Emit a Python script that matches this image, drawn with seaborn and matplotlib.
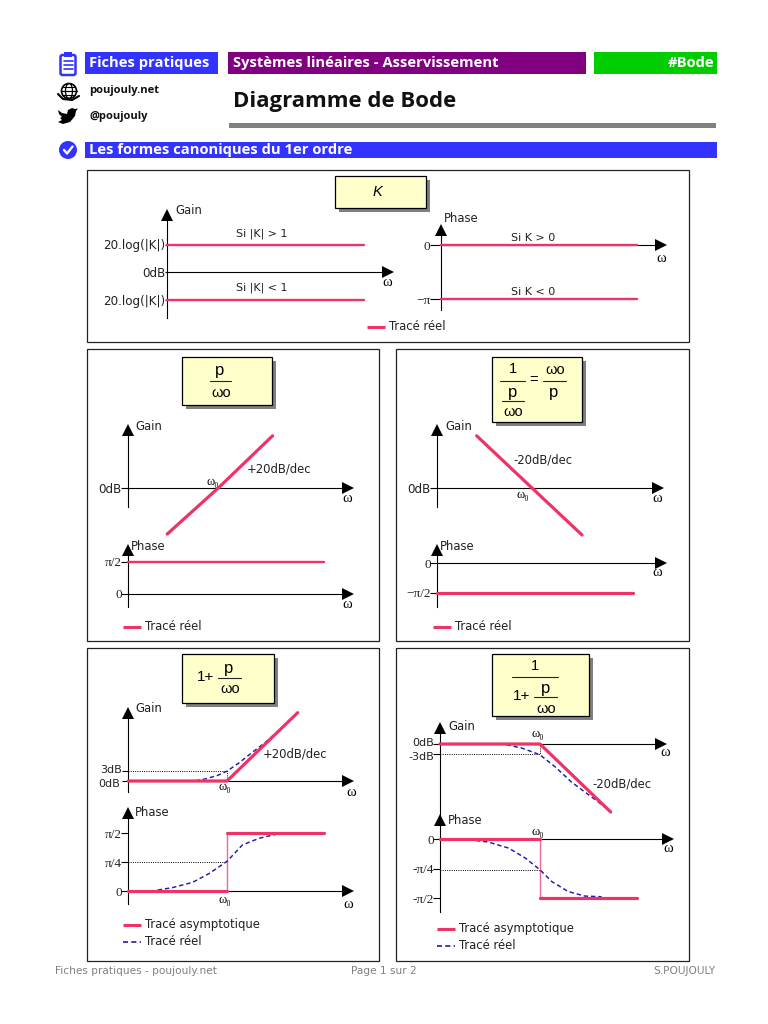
import matplotlib
matplotlib.use("Agg")
import matplotlib.pyplot as plt
from matplotlib.patches import Rectangle, FancyBboxPatch, Circle, Polygon, Ellipse
from matplotlib.transforms import ScaledTranslation
import numpy as np
import seaborn as sns

sns.set_theme(style="white")
plt.rcParams["font.family"] = ["DejaVu Sans"]

W, H = 768, 1024
RED = "#ee3366"
NAVY = "#1c1ca8"
BLUE = "#3333ff"
HEAD_FONT = "Open Sans"

# ---------- data ----------
header_left = "Fiches pratiques"
header_mid = "Systèmes linéaires - Asservissement"
header_right = "#Bode"
page_title = "Diagramme de Bode"
section_title = "Les formes canoniques du 1er ordre"
footer_texts = ["Fiches pratiques - poujouly.net", "Page 1 sur 2", "S.POUJOULY"]

k_x = [0.0, 1.0]
k_gain_high = [1.0, 1.0]
k_gain_low = [-1.0, -1.0]
k_phase_high = [0.0, 0.0]
k_phase_low = [-180.0, -180.0]

p_gain_x = [-0.97, 0.0, 1.03]
p_gain_y = [-18.8, 0.0, 21.3]
p_phase_x = [0.0, 3.72]
p_phase_y = [90.0, 90.0]

inv_gain_x = [-1.05, 0.0, 0.95]
inv_gain_y = [21.3, 0.0, -19.2]
inv_phase_x = [0.0, 3.72]
inv_phase_y = [-90.0, -90.0]

hp_gain_x = [-1.41, 0.0, 1.01]
hp_gain_y = [0.0, 0.0, 20.1]
hp_gain_real_x = [-0.45, -0.31, -0.14, 0.0, 0.17, 0.36, 0.55, 0.83]
hp_gain_real_y = [0.1, 0.6, 1.6, 2.9, 5.3, 8.4, 11.4, 16.5]
hp_phase_low_x = [-1.41, 0.0]
hp_phase_low_y = [0.0, 0.0]
hp_phase_step_x = [0.0, 0.0]
hp_phase_step_y = [0.0, 90.0]
hp_phase_high_x = [0.0, 1.39]
hp_phase_high_y = [90.0, 90.0]
hp_phase_real_x = [-0.99, -0.78, -0.49, -0.25, 0.0, 0.22, 0.46, 0.70]
hp_phase_real_y = [1.5, 5.2, 13.5, 27.5, 46.0, 71.5, 81.9, 88.0]

lp_gain_x = [-1.43, 0.0, 1.01]
lp_gain_y = [0.0, 0.0, -20.0]
lp_gain_real_x = [-0.48, -0.26, -0.10, 0.0, 0.21, 0.45, 0.64, 0.83, 0.98]
lp_gain_real_y = [-0.2, -1.2, -2.4, -3.2, -6.6, -11.2, -14.1, -17.0, -19.5]
lp_phase_low_x = [-1.43, 0.0]
lp_phase_low_y = [0.0, 0.0]
lp_phase_step_x = [0.0, 0.0]
lp_phase_step_y = [0.0, -90.0]
lp_phase_high_x = [0.0, 1.39]
lp_phase_high_y = [-90.0, -90.0]
lp_phase_real_x = [-1.02, -0.74, -0.45, -0.21, 0.0, 0.17, 0.40, 0.64, 0.88]
lp_phase_real_y = [-1.0, -4.6, -13.8, -29.0, -47.0, -65.0, -80.0, -87.0, -88.0]

# ---------- canvas ----------
fig = plt.figure(figsize=(W / 100, H / 100), dpi=100, facecolor="white")
bg = fig.add_axes([0, 0, 1, 1], zorder=0)
bg.set_xlim(0, W)
bg.set_ylim(H, 0)
bg.axis("off")


def txt(x, y, s, size=8.4, color="black", ha="left", va="center", **kw):
    return bg.text(x, y, s, fontsize=size, color=color, ha=ha, va=va, **kw)


def bar(x0, x1, y0, y1, color):
    bg.add_patch(Rectangle((x0, y0), x1 - x0, y1 - y0, fc=color, ec="none"))


def frame(x0, x1, y0, y1):
    bg.add_patch(Rectangle((x0, y0), x1 - x0, y1 - y0, fc="white", ec="#222222", lw=0.9))


def formula_box(x0, x1, y0, y1):
    bg.add_patch(Rectangle((x0 + 4, y0 + 4), x1 - x0, y1 - y0, fc="#808080", ec="none"))
    bg.add_patch(Rectangle((x0, y0), x1 - x0, y1 - y0, fc="#ffffcc", ec="black", lw=0.9))


def frac(x0, x1, y):
    bg.plot([x0, x1], [y, y], color="#222222", lw=0.8)


def ftxt(x, y, s, size=10.5, **kw):
    txt(x, y, s, size=size, ha="center", family="Liberation Sans", **kw)


def omega(x, y):
    txt(x, y, "ω", size=10.5, ha="center", family="Liberation Serif")


def omega0(x, y):
    txt(x, y, "ω₀", size=9, ha="center", family=["Liberation Serif", "DejaVu Serif"])


def legend(x, y, label, dashed=False):
    if dashed:
        bg.plot([x, x + 18], [y, y], color=NAVY, lw=1.2, ls=(0, (3, 2)))
    else:
        bg.plot([x, x + 18], [y, y], color=RED, lw=2.2, solid_capstyle="butt")
    txt(x + 22, y - 0.5, label, color="#222222")


def diagram(left, right, top, bottom, ox, oy, sx, sy, ticks, ticklen=5, size=8.6, shifts=None):
    """Axes placed on the page: ox, oy = pixel of the origin, sx, sy = pixels per unit."""
    ax = fig.add_axes([left / W, 1 - bottom / H, (right - left) / W, (bottom - top) / H],
                      zorder=2)
    ax.patch.set_visible(False)
    sns.despine(ax=ax)
    ax.spines["bottom"].set_position(("data", 0))
    for s in ("left", "bottom"):
        ax.spines[s].set_color("black")
        ax.spines[s].set_linewidth(0.8)
    ax.plot(1, 0, ">", color="black", ms=8, mew=0, transform=ax.get_yaxis_transform(),
            clip_on=False, zorder=4)
    ax.plot(0, 1, "^", color="black", ms=8, mew=0, transform=ax.transAxes,
            clip_on=False, zorder=4)
    ax.set_xticks([])
    ax.set_yticks([t[0] for t in ticks])
    ax.set_yticklabels([t[1] for t in ticks])
    ax.tick_params(axis="y", left=True, length=ticklen, width=0.8, pad=-0.5, labelsize=size,
                   labelcolor="#222222", color="black")
    for lab in ax.get_yticklabels():
        t = lab.get_text()
        if "π" in t or t == "0":
            lab.set_family(["Liberation Serif", "DejaVu Sans"])
            lab.set_fontsize(9.5)
    ax.set_xlim((left - ox) / sx, (right - ox) / sx)
    ax.set_ylim((oy - bottom) / sy, (oy - top) / sy)
    if shifts:
        for lab, (dx, dy) in zip(ax.get_yticklabels(), shifts):
            lab.set_transform(lab.get_transform()
                              + ScaledTranslation(dx / 100, dy / 100, fig.dpi_scale_trans))
    return ax


def curve(ax, x, y, kind="thick"):
    styles = {
        "thick": dict(color=RED, linewidth=2.3, zorder=3),
        "medium": dict(color=RED, linewidth=1.7, zorder=3),
        "thin": dict(color="#f06a90", linewidth=1.0, zorder=2.8),
        "real": dict(color=NAVY, linewidth=1.05, linestyle=(0, (3, 2)), zorder=2.9),
    }
    sns.lineplot(x=x, y=y, ax=ax, sort=False, estimator=None, errorbar=None, clip_on=False,
                 **styles[kind])


def dotted(ax, x, y):
    ax.plot(x, y, color="black", lw=0.7, ls=(0, (1, 1.3)), clip_on=False)


# ---------- header ----------
bg.add_patch(FancyBboxPatch((60.5, 55), 15, 20, boxstyle="round,pad=0,rounding_size=2",
                            fc="white", ec=BLUE, lw=1.8))
bar(64, 72, 52, 57, BLUE)
for yy in (61, 65, 69):
    bg.plot([63.5, 72.5], [yy, yy], color=BLUE, lw=1.2)

bar(85, 218, 52, 74, BLUE)
bar(228, 586, 52, 74, "#800080")
bar(594, 717, 52, 74, "#00cc00")
head = dict(size=10.6, color="white", weight="bold", family=HEAD_FONT)
txt(89, 63, header_left, **head)
txt(233, 63, header_mid, **head)
txt(714, 63, header_right, ha="right", **head)

# globe and bird
bg.add_patch(Circle((69, 91), 7.5, fc="white", ec="black", lw=1.2))
bg.add_patch(Ellipse((69, 91), 7, 15, fc="none", ec="black", lw=0.9))
bg.plot([61.5, 76.5], [91, 91], color="black", lw=0.9)
bg.plot([63, 75], [87, 87], color="black", lw=0.8)
bg.plot([63, 75], [95, 95], color="black", lw=0.8)
bg.plot([58, 63, 72, 79], [94, 99, 100, 96], color="black", lw=1.5)
bg.add_patch(Polygon([(58, 110), (62, 113), (67, 114), (68, 110), (72, 108), (75, 109),
                      (78, 108.5), (76, 111), (75, 116), (70, 122), (63, 124), (58, 122),
                      (62, 120), (60, 118), (62, 117), (59, 114)], fc="black", ec="none"))

txt(89, 91, "poujouly.net", size=8, weight="bold", family=HEAD_FONT, color="#111111")
txt(89, 116, "@poujouly", size=8, weight="bold", family=HEAD_FONT, color="#111111")
txt(233, 101, page_title, size=15.9, weight="bold", family=HEAD_FONT, color="#111111")
bar(229, 716, 123, 128, "#808080")

bg.add_patch(Circle((68, 150), 9, fc=BLUE, ec="none"))
bg.plot([64, 67, 72.5], [150, 153.5, 146.5], color="white", lw=1.7)
bar(85, 717, 142, 158, BLUE)
txt(89, 150, section_title, **head)

# footer
txt(55, 971, footer_texts[0], size=7.6, color="#808080")
txt(384, 971, footer_texts[1], size=7.6, color="#808080", ha="center")
txt(715, 971, footer_texts[2], size=7.6, color="#808080", ha="right")

# ---------- panel frames ----------
frame(87, 689, 170, 342)
frame(87, 379, 349, 641)
frame(396, 689, 349, 641)
frame(87, 379, 648, 961)
frame(396, 689, 648, 961)

# ---------- K ----------
formula_box(335, 426, 176, 208)
txt(377, 192, "K", size=10.5, ha="center", style="italic", family="Liberation Sans")
ax = diagram(167, 388, 215, 318, 167, 272, 197, 27.5,
             [(1, "20.log(|K|)"), (0, "0dB"), (-1, "20.log(|K|)")], ticklen=1.5)
curve(ax, k_x, k_gain_high, "medium")
curve(ax, k_x, k_gain_low, "medium")
txt(175, 211, "Gain", color="#222222")
omega(387, 282)
txt(262, 234, "Si |K| > 1", ha="center", color="#222222", size=8)
txt(262, 288, "Si |K| < 1", ha="center", color="#222222", size=8)

ax = diagram(441, 661, 230, 310, 441, 245, 196, 0.3, [(0, "0"), (-180, "−π")], ticklen=8)
curve(ax, k_x, k_phase_high, "medium")
curve(ax, k_x, k_phase_low, "medium")
txt(444, 218, "Phase", color="#222222")
omega(661, 258)
txt(533, 238, "Si K > 0", ha="center", color="#222222", size=8)
txt(533, 292, "Si K < 0", ha="center", color="#222222", size=8)
legend(367, 327, "Tracé réel")

# ---------- p / w0 ----------
formula_box(182, 272, 357, 405)
ftxt(220, 371, "p", size=12)
frac(210, 231, 381)
ftxt(221, 393, "ωo")
ax = diagram(128, 348, 430, 507, 218.3, 488, 52.7, 2.45, [(0, "0dB")])
curve(ax, p_gain_x, p_gain_y, "thick")
txt(135, 426, "Gain", color="#222222")
omega0(213, 482)
omega(347, 498)
txt(247, 469, "+20dB/dec", color="#222222")
ax = diagram(128, 348, 550, 607, 128, 594, 52.7, 0.356, [(90, "π/2"), (0, "0")])
curve(ax, p_phase_x, p_phase_y, "medium")
txt(131, 546, "Phase", color="#222222")
omega(347, 604)
legend(123, 627, "Tracé réel")

# ---------- 1 / (p / w0) ----------
formula_box(492, 582, 357, 422)
ftxt(513, 369, "1")
frac(500, 525, 381)
ftxt(513, 392, "p", size=12)
frac(502, 524, 401)
ftxt(513, 412, "ωo")
ftxt(534, 380, "=")
ftxt(555, 370, "ωo")
frac(543, 566, 381)
ftxt(554, 392, "p", size=12)
ax = diagram(437, 658, 430, 507, 532, 488, 52.7, 2.45, [(0, "0dB")])
curve(ax, inv_gain_x, inv_gain_y, "thick")
txt(445, 426, "Gain", color="#222222")
omega0(523, 495)
omega(657, 498)
txt(513, 460, "-20dB/dec", color="#222222")
ax = diagram(437, 661, 550, 607, 437, 563, 52.7, 0.333, [(0, "0"), (-90, "−π/2")])
curve(ax, inv_phase_x, inv_phase_y, "thick")
txt(440, 546, "Phase", color="#222222")
omega(657, 573)
legend(433, 627, "Tracé réel")

# ---------- 1 + p / w0 ----------
formula_box(182, 274, 654, 703)
ftxt(206, 677, "1+", size=11)
ftxt(229, 669, "p", size=12)
frac(218, 241, 678)
ftxt(230, 689, "ωo")
ax = diagram(128, 348, 713, 792, 227, 781, 70, 3.4, [(3, "3dB"), (0, "0dB")], ticklen=4,
             size=8, shifts=[(-1, 2), (-3, -2)])
dotted(ax, [-1.41, 0, 0], [3, 3, 0])
curve(ax, hp_gain_real_x, hp_gain_real_y, "real")
curve(ax, hp_gain_x, hp_gain_y, "thick")
txt(135, 709, "Gain", color="#222222")
omega0(225, 787)
omega(351, 792)
txt(263, 754, "+20dB/dec", color="#222222")
ax = diagram(128, 348, 813, 904, 227, 891, 70, 0.644,
             [(90, "π/2"), (45, "π/4"), (0, "0")], ticklen=5)
dotted(ax, [-1.41, 0], [45, 45])
curve(ax, hp_phase_step_x, hp_phase_step_y, "thin")
curve(ax, hp_phase_real_x, hp_phase_real_y, "real")
curve(ax, hp_phase_low_x, hp_phase_low_y, "thick")
curve(ax, hp_phase_high_x, hp_phase_high_y, "thick")
txt(135, 813, "Phase", color="#222222")
omega0(225, 900)
omega(348, 905)
legend(123, 925, "Tracé asymptotique")
legend(123, 942, "Tracé réel", dashed=True)

# ---------- 1 / (1 + p / w0) ----------
formula_box(492, 589, 654, 716)
ftxt(535, 666, "1")
frac(512, 558, 677)
ftxt(522, 696, "1+", size=11)
ftxt(546, 688, "p", size=12)
frac(534, 557, 697)
ftxt(546, 709, "ωo")
ax = diagram(440, 661, 728, 815, 540, 744, 70, 3.4, [(0, "0dB"), (-3, "-3dB")], ticklen=5,
             size=8, shifts=[(0, 2), (0, -2)])
dotted(ax, [-1.43, 0, 0], [-3, -3, 0])
curve(ax, lp_gain_real_x, lp_gain_real_y, "real")
curve(ax, lp_gain_x, lp_gain_y, "thick")
txt(448, 727, "Gain", color="#222222")
omega0(538, 734)
omega(665, 753)
txt(592, 784, "-20dB/dec", color="#222222")
ax = diagram(440, 668, 820, 912, 540, 839, 70, 0.656,
             [(0, "0"), (-45, "-π/4"), (-90, "-π/2")], ticklen=5)
dotted(ax, [-1.43, 0], [-47, -47])
curve(ax, lp_phase_step_x, lp_phase_step_y, "thin")
curve(ax, lp_phase_real_x, lp_phase_real_y, "real")
curve(ax, lp_phase_low_x, lp_phase_low_y, "thick")
curve(ax, lp_phase_high_x, lp_phase_high_y, "thick")
txt(448, 820, "Phase", color="#222222")
omega0(538, 832)
omega(668, 849)
legend(437, 929, "Tracé asymptotique")
legend(437, 946, "Tracé réel", dashed=True)

fig.savefig("out.png", dpi=100, facecolor="white")
